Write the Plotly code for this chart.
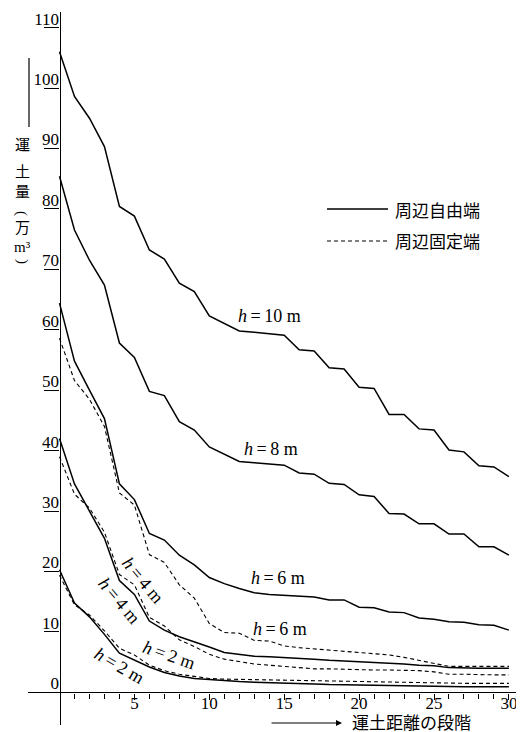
import plotly.graph_objects as go

# ---- data ----
steps = list(range(0, 31))

h10_free = [106.0, 98.6, 95.0, 90.3, 80.4, 78.8, 73.2, 71.7, 67.7, 66.3, 62.3, 61.0, 59.8, 59.6, 59.4,
            59.1, 56.7, 56.5, 53.7, 53.5, 50.5, 50.3, 46.0, 46.0, 43.6, 43.4, 40.1, 39.8, 37.5, 37.3, 35.7]
h8_free = [85.4, 76.5, 71.5, 67.4, 57.8, 55.4, 49.8, 49.1, 44.8, 43.4, 40.6, 39.4, 38.2, 38.0, 37.8,
           37.6, 36.3, 36.1, 34.6, 34.4, 32.7, 32.4, 29.6, 29.5, 27.9, 27.9, 26.2, 26.2, 24.1, 24.1, 22.7]
h6_free = [64.4, 54.8, 50.0, 45.3, 34.5, 31.9, 26.3, 25.2, 22.7, 21.1, 19.0, 18.0, 17.2, 16.5, 16.2,
           16.1, 16.0, 15.8, 15.3, 15.3, 14.1, 14.0, 13.3, 13.2, 12.3, 12.1, 11.7, 11.6, 11.2, 11.1, 10.3]
h6_fixed = [58.6, 51.6, 48.5, 44.0, 33.0, 31.0, 22.8, 21.5, 17.8, 15.6, 11.4, 9.9, 9.8, 8.6, 8.5,
            7.7, 7.4, 7.2, 7.0, 6.8, 6.5, 6.4, 6.2, 5.8, 5.3, 4.8, 4.3, 4.3, 4.3, 4.3, 4.3]
h4_free = [42.0, 34.5, 30.0, 25.5, 18.5, 16.2, 11.8, 10.3, 9.2, 8.4, 7.5, 6.6, 6.3, 6.0, 5.9,
           5.8, 5.6, 5.5, 5.3, 5.2, 5.0, 4.9, 4.8, 4.7, 4.5, 4.4, 4.1, 4.0, 4.0, 4.0, 4.0]
h4_fixed = [39.0, 32.8, 30.5, 26.5, 19.5, 17.8, 12.4, 11.0, 8.7, 7.6, 6.3, 5.5, 5.1, 4.7, 4.5,
            4.3, 4.0, 3.9, 3.9, 3.8, 3.8, 3.7, 3.7, 3.7, 3.6, 3.4, 3.0, 3.0, 2.9, 2.9, 2.9]
h2_free = [20.3, 14.8, 12.5, 9.6, 6.5, 5.3, 4.2, 3.3, 2.7, 2.3, 2.1, 1.9, 1.8, 1.7, 1.65,
           1.55, 1.5, 1.4, 1.3, 1.25, 1.2, 1.15, 1.1, 1.05, 1.0, 1.0, 0.95, 0.95, 0.95, 0.95, 0.95]
h2_fixed = [19.4, 14.5, 12.8, 10.2, 7.3, 6.2, 4.5, 3.6, 3.0, 2.6, 2.3, 2.2, 2.15, 2.1, 2.05,
            2.0, 2.0, 1.95, 1.9, 1.85, 1.8, 1.8, 1.75, 1.7, 1.6, 1.55, 1.5, 1.5, 1.5, 1.5, 1.5]

y_ticks = list(range(0, 111, 10))
x_ticks = [5, 10, 15, 20, 25, 30]

legend_labels = ["周辺自由端", "周辺固定端"]
x_title = "運土距離の段階"
y_title_chars = ["運", "土", "量", "(", "万", "m³", ")"]

TS = "\u2009"
# curve labels: (text, x, y, angle)
curve_labels = [
    (f"<i>h</i>{TS}={TS}10 m", 14.05, 62.3, 0),
    (f"<i>h</i>{TS}={TS}8 m", 14.1, 40.2, 0),
    (f"<i>h</i>{TS}={TS}6 m", 14.6, 19.0, 0),
    (f"<i>h</i>{TS}={TS}6 m", 14.75, 10.5, 0),
    (f"<i>h</i>{TS}={TS}4 m", 5.55, 18.6, 50),
    (f"<i>h</i>{TS}={TS}4 m", 4.0, 15.1, 50),
    (f"<i>h</i>{TS}={TS}2 m", 7.3, 6.2, 19),
    (f"<i>h</i>{TS}={TS}2 m", 4.0, 4.3, 30),
]

# ---- figure ----
# the page body has an 8px margin, so the figure is offset by 8px
OFF = 8
W, H = 516, 724
def px(xp):
    return (xp - OFF) / W
def py(yp):
    return 1 - (yp - OFF) / H

SERIF = "Liberation Serif"
CJK = "Noto Sans CJK JP"

fig = go.Figure()
solid = dict(color="black", width=1.5)
dashed = dict(color="black", width=1.1, dash="4px,3px")
for ys in [h10_free, h8_free, h6_free, h4_free, h2_free]:
    fig.add_trace(go.Scatter(x=steps, y=ys, mode="lines", line=solid, showlegend=False,
                             hoverinfo="skip"))
for ys in [h6_fixed, h4_fixed, h2_fixed]:
    fig.add_trace(go.Scatter(x=steps, y=ys, mode="lines", line=dashed, showlegend=False,
                             hoverinfo="skip"))

# axis geometry (screen pixels)
x0px, xunit = 59.5, 14.98
y0px, yunit = 692.4, 6.044
left, right, top, bottom = 28, 520, 12, 725
xr = [(left - x0px) / xunit, (right - x0px) / xunit]
yr = [(y0px - bottom) / yunit, (y0px - top) / yunit]

fig.update_layout(
    width=W, height=H,
    margin=dict(l=0, r=0, t=0, b=0),
    paper_bgcolor="white", plot_bgcolor="white",
    showlegend=False,
    xaxis=dict(
        domain=[px(left), px(right)], range=xr, anchor="free", position=py(y0px),
        showgrid=False, zeroline=False, showline=True, linecolor="black", linewidth=1.2,
        tickmode="array", tickvals=x_ticks, ticktext=[str(v) for v in x_ticks],
        ticks="outside", ticklen=6, tickwidth=1, tickcolor="black",
        ticklabelstandoff=-11,
        tickfont=dict(family=SERIF, size=17, color="black"),
        minor=dict(tickmode="array", tickvals=[v for v in steps if v > 0 and v % 5],
                   ticks="outside", ticklen=5, tickwidth=1, tickcolor="black", showgrid=False),
        automargin=False, fixedrange=True,
    ),
    yaxis=dict(
        domain=[py(bottom), py(top)], range=yr, anchor="free", position=px(x0px),
        showgrid=False, zeroline=False, showline=True, linecolor="black", linewidth=1.2,
        tickmode="array", tickvals=y_ticks, ticktext=[str(v) for v in y_ticks],
        ticks="outside", ticklen=15, tickwidth=1, tickcolor="black",
        ticklabelshift=-9, ticklabelstandoff=-18,
        tickfont=dict(family=SERIF, size=17, color="black"),
        automargin=False, fixedrange=True,
    ),
)

annotations = []
for text, xv, yv, ang in curve_labels:
    annotations.append(dict(x=xv, y=yv, xref="x", yref="y", text=text, showarrow=False,
                            textangle=ang, font=dict(family=SERIF, size=18, color="black")))

# legend (drawn)
shapes = [
    dict(type="line", xref="paper", yref="paper", x0=px(327), x1=px(388), y0=py(209), y1=py(209),
         line=dict(color="black", width=1.5)),
    dict(type="line", xref="paper", yref="paper", x0=px(327), x1=px(388), y0=py(241), y1=py(241),
         line=dict(color="black", width=1.1, dash="4px,3px")),
    # y title arrow shaft
    dict(type="line", xref="paper", yref="paper", x0=px(29), x1=px(29), y0=py(58), y1=py(127),
         line=dict(color="black", width=1.2)),
]
for lab, yp in zip(legend_labels, [209, 241]):
    annotations.append(dict(x=px(393), y=py(yp), xref="paper", yref="paper", text=lab,
                            showarrow=False, xanchor="left", yanchor="middle",
                            font=dict(family=CJK, size=17, color="black")))

# y title (vertical)
for ch, yp in zip(y_title_chars, [143, 170, 191, 213, 227, 247, 261]):
    if ch in "()":
        fam, fs, ang = SERIF, 15, 90
    elif ch == "m³":
        fam, fs, ang = SERIF, 15, 0
    else:
        fam, fs, ang = CJK, 15, 0
    annotations.append(dict(x=px(22), y=py(yp), xref="paper", yref="paper", text=ch,
                            showarrow=False, xanchor="center", yanchor="middle", textangle=ang,
                            font=dict(family=fam, size=fs, color="black")))

# x title with arrow
annotations.append(dict(x=px(342), y=py(723), xref="paper", yref="paper", text="",
                        showarrow=True, arrowhead=2, arrowsize=1, arrowwidth=1.2,
                        arrowcolor="black", ax=-72, ay=0, axref="pixel", ayref="pixel"))
annotations.append(dict(x=px(350), y=py(721), xref="paper", yref="paper", text=x_title,
                        showarrow=False, xanchor="left", yanchor="middle",
                        font=dict(family=CJK, size=17, color="black")))

fig.update_layout(annotations=annotations, shapes=shapes)

fig.write_html("out.html")
